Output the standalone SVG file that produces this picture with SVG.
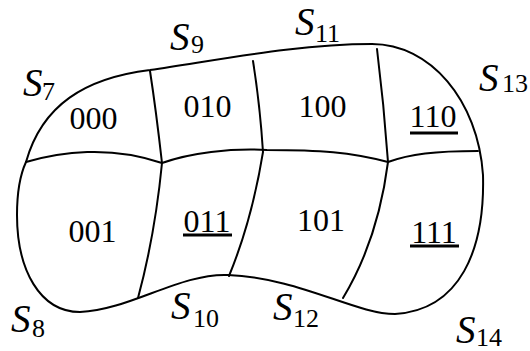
<svg xmlns="http://www.w3.org/2000/svg" width="530" height="351" viewBox="0 0 530 351">
<style>
.ln{fill:none;stroke:#000;stroke-width:2;stroke-linejoin:round;stroke-linecap:round}
.ul{stroke:#000;stroke-width:3}
.cell{font-family:"Liberation Serif","Times New Roman",serif;font-size:32px;fill:#000;text-anchor:middle}
.lab{font-family:"Liberation Serif","Times New Roman",serif;font-size:39px;font-style:italic;fill:#000}
.sub{font-style:normal;font-size:26px}
</style>
<rect width="530" height="351" fill="#fff"/>
<g id="connectors">
<path class="ln" d="M26,162 C42,105 85,78 150,70 C230,58 300,44 372,44 C430,44 478,100 483,175 C485,250 460,310 395,314 C355,314 300,278 228,275 C180,273 130,310 80,312 C40,312 17,270 17,215 C17,190 20,175 26,162 Z"/>
<path class="ln" d="M26,162 C60,152 110,145 162,163 C190,153 230,148 267,150 C320,150 350,152 388,162 C410,154 435,151 478,151"/>
<path class="ln" d="M150,71 Q156,110 162,163 Q155,235 138,298"/>
<path class="ln" d="M253,61 Q260,105 263,152 Q252,220 229,276"/>
<path class="ln" d="M377,49 Q384,105 388,162 Q378,240 343,298"/>
</g>
<g id="c000"><text class="cell" x="93.5" y="129">000</text></g>
<g id="c010"><text class="cell" x="207.5" y="117">010</text></g>
<g id="c100"><text class="cell" x="322.5" y="117">100</text></g>
<g id="c110"><text class="cell" x="433" y="127">110</text><line class="ul" x1="410" y1="133" x2="458" y2="133"/></g>
<g id="c001"><text class="cell" x="92.5" y="242">001</text></g>
<g id="c011"><text class="cell" x="207" y="231.5">011</text><line class="ul" x1="183" y1="235" x2="232" y2="235"/></g>
<g id="c101"><text class="cell" x="321" y="231">101</text></g>
<g id="c111"><text class="cell" x="434" y="243">111</text><line class="ul" x1="410" y1="246" x2="459" y2="246"/></g>
<g id="s7"><text class="lab" x="23" y="96">S<tspan class="sub" x="42" y="100">7</tspan></text></g>
<g id="s9"><text class="lab" x="170" y="50">S<tspan class="sub" x="191" y="53">9</tspan></text></g>
<g id="s11"><text class="lab" x="295" y="35">S<tspan class="sub" x="315" y="42">11</tspan></text></g>
<g id="s13"><text class="lab" x="479" y="91">S<tspan class="sub" x="502" y="92">13</tspan></text></g>
<g id="s8"><text class="lab" x="11" y="332">S<tspan class="sub" x="32" y="337">8</tspan></text></g>
<g id="s10"><text class="lab" x="171" y="319">S<tspan class="sub" x="193" y="327">10</tspan></text></g>
<g id="s12"><text class="lab" x="273" y="320">S<tspan class="sub" x="293" y="327">12</tspan></text></g>
<g id="s14"><text class="lab" x="456" y="343">S<tspan class="sub" x="476" y="346">14</tspan></text></g>
</svg>
